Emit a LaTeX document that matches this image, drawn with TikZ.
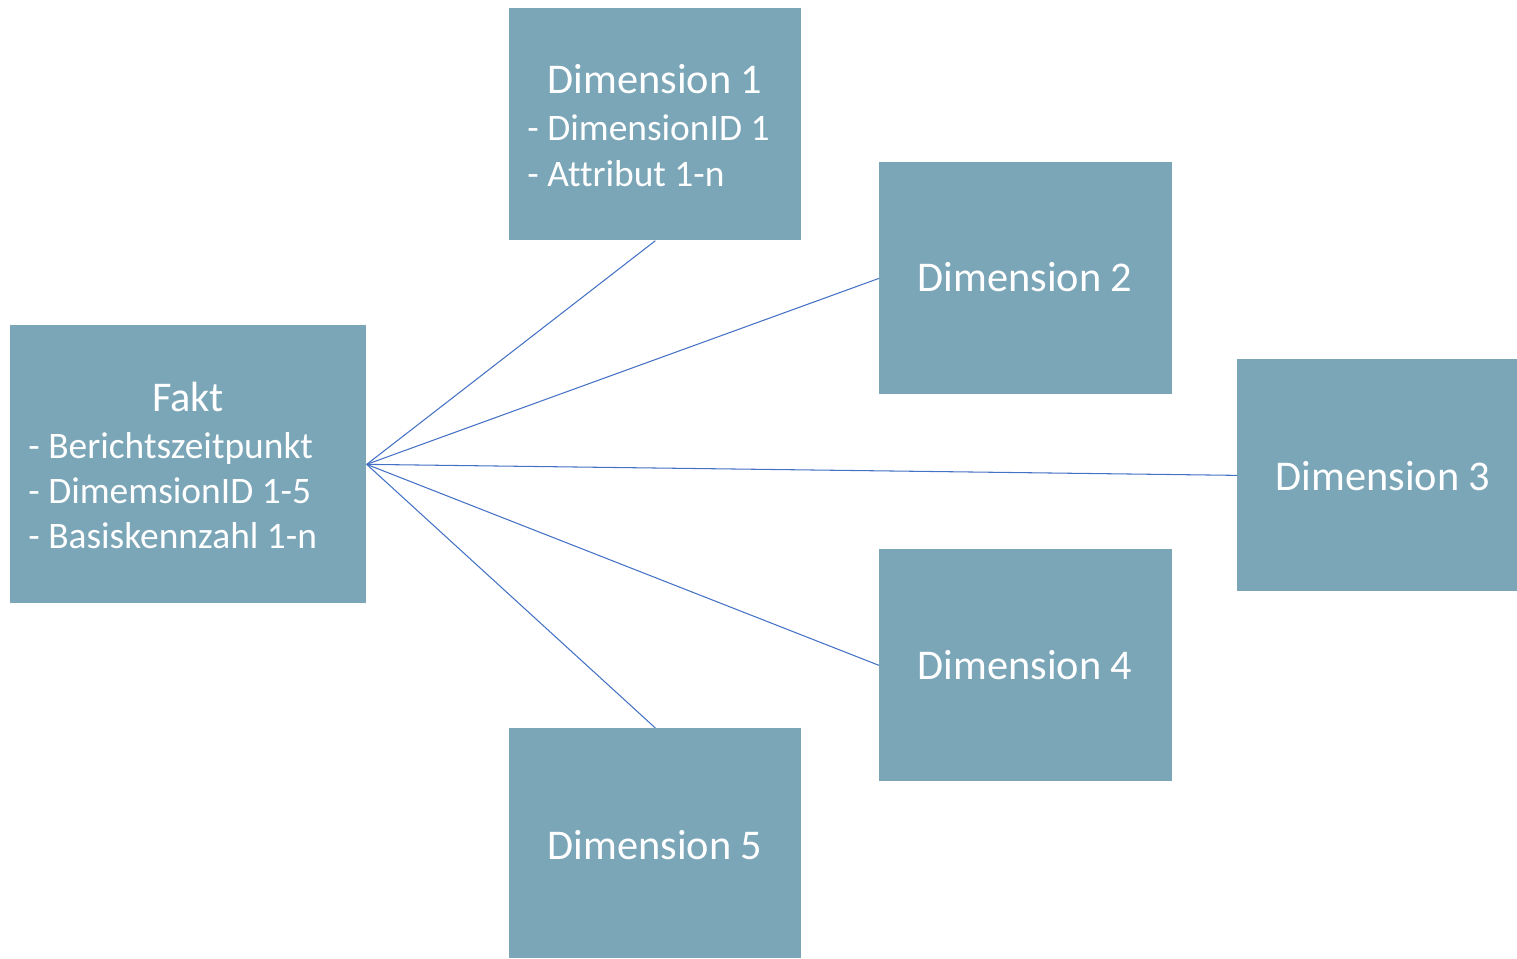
\documentclass[tikz,border=0pt]{standalone}
\usepackage{fontspec}
\setmainfont[Ligatures={NoCommon}]{Carlito}
\definecolor{boxfill}{HTML}{7AA6B8}
\definecolor{linkblue}{HTML}{4472C4}
\begin{document}
\begin{tikzpicture}[x=0.02cm,y=-0.02cm,
  box/.style={fill=boxfill,draw=none,inner sep=0pt,anchor=north west},
  ttl/.style={text=white,font=\fontsize{24.1}{28}\selectfont,anchor=base,inner sep=0pt},
  itm/.style={text=white,font=\fontsize{21.3}{25}\selectfont,anchor=base west,inner sep=0pt},
  link/.style={draw=linkblue,line width=0.6pt}]
\useasboundingbox (0,0) rectangle (1517,958);
% boxes
\node[box,minimum width=356*0.02cm,minimum height=278*0.02cm] (fakt) at (10,325) {};
\node[box,minimum width=292*0.02cm,minimum height=232*0.02cm] (d1) at (509,8) {};
\node[box,minimum width=293*0.02cm,minimum height=232*0.02cm] (d2) at (879,162) {};
\node[box,minimum width=280*0.02cm,minimum height=232*0.02cm] (d3) at (1237,359) {};
\node[box,minimum width=293*0.02cm,minimum height=232*0.02cm] (d4) at (879,549) {};
\node[box,minimum width=292*0.02cm,minimum height=230*0.02cm] (d5) at (509,728) {};
% texts
\node[ttl] (tf) at (188,411) {Fakt};
\node[itm] (tf1) at (28,458) {- Berichtszeitpunkt};
\node[itm] (tf2) at (28,503) {- DimemsionID 1-5};
\node[itm] (tf3) at (28,548) {- Basiskennzahl 1-n};
\node[ttl] (t1) at (655,93) {Dimension 1};
\node[itm] (t11) at (527,140) {- DimensionID 1};
\node[itm] (t12) at (527,186) {- Attribut 1-n};
\node[ttl] (t2) at (1025,291) {Dimension 2};
\node[ttl] (t3) at (1383,490) {Dimension 3};
\node[ttl] (t4) at (1025,679) {Dimension 4};
\node[ttl] (t5) at (655,859) {Dimension 5};
% connectors
\draw[link] (fakt.east) -- (d1.south);
\draw[link] (fakt.east) -- (d2.west);
\draw[link] (fakt.east) -- (d3.west);
\draw[link] (fakt.east) -- (d4.west);
\draw[link] (fakt.east) -- (d5.north);
\end{tikzpicture}
\end{document}
